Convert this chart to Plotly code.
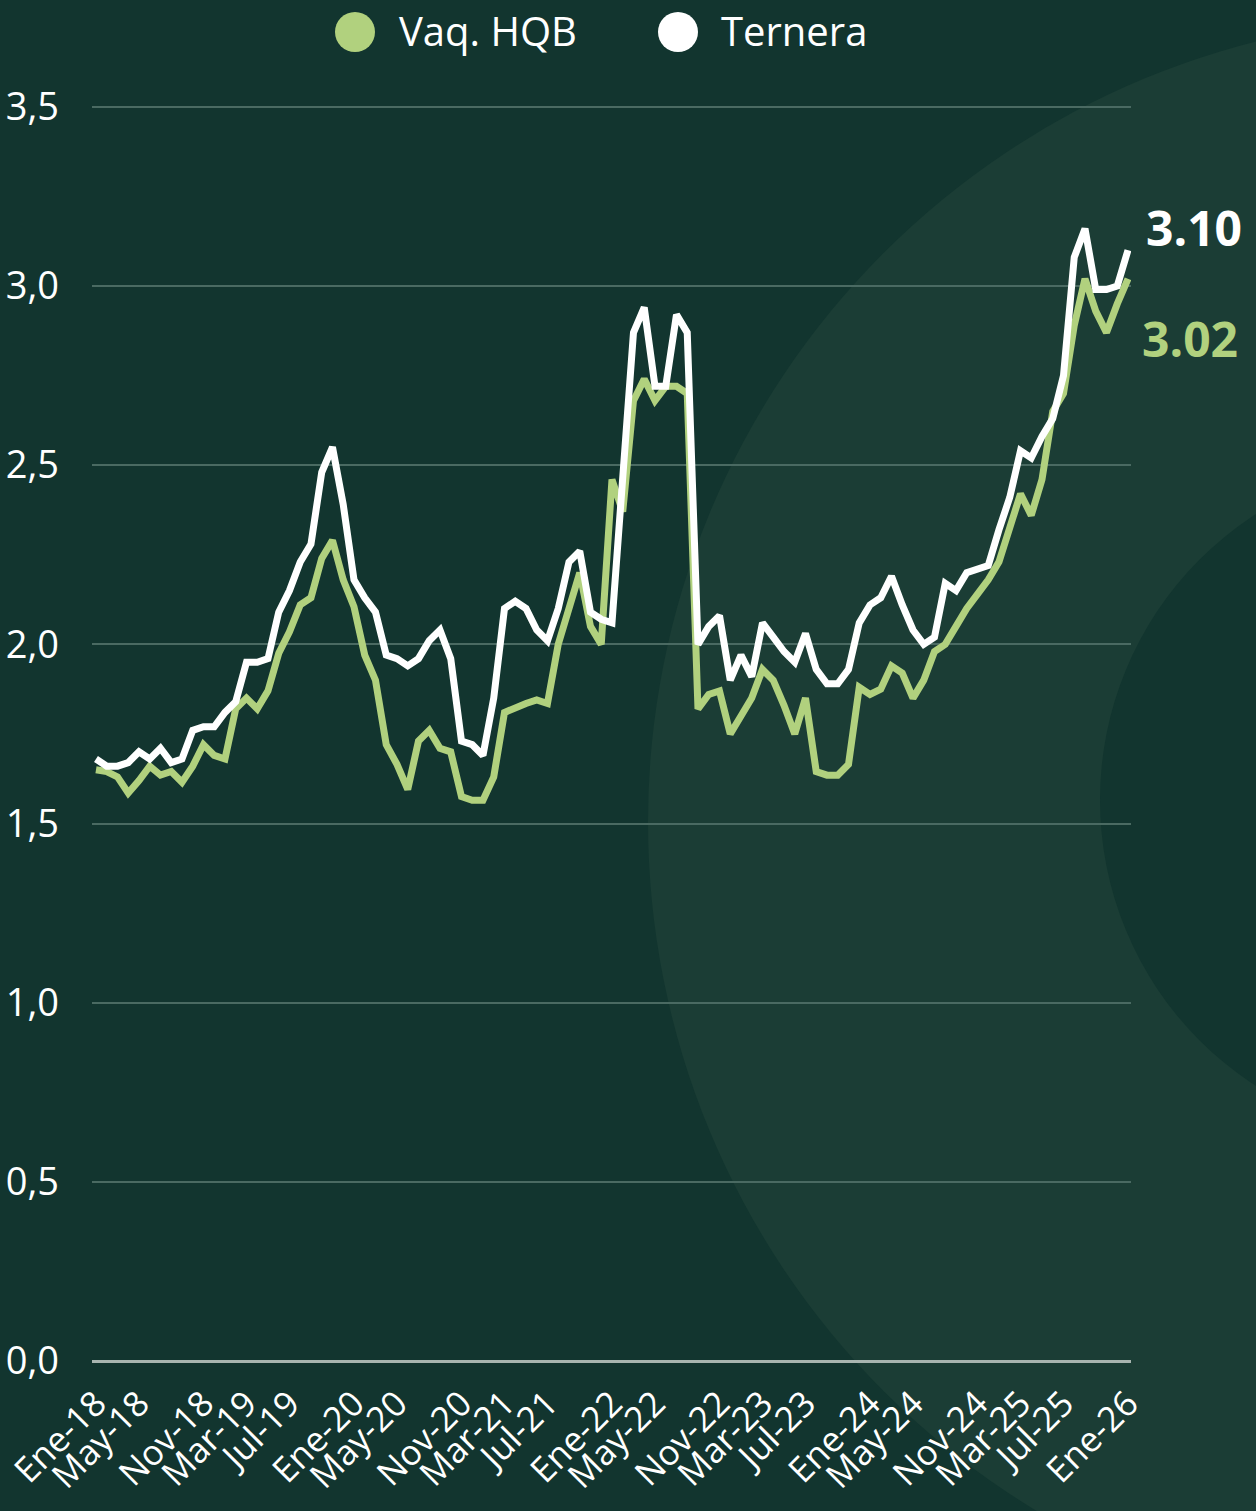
import plotly.graph_objects as go

# ---------------- data ----------------
month_names = ["Ene", "Feb", "Mar", "Abr", "May", "Jun", "Jul", "Ago", "Sep", "Oct", "Nov", "Dic"]
years = list(range(2018, 2026))
months = [f"{m}-{str(y)[2:]}" for y in years for m in month_names] + ["Ene-26"]

tick_labels = ["Ene-18", "May-18", "Nov-18", "Mar-19", "Jul-19", "Ene-20", "May-20", "Nov-20",
               "Mar-21", "Jul-21", "Ene-22", "May-22", "Nov-22", "Mar-23", "Jul-23", "Ene-24",
               "May-24", "Nov-24", "Mar-25", "Jul-25", "Ene-26"]

ternera = [1.68, 1.66, 1.66, 1.67, 1.70, 1.68, 1.71, 1.67, 1.68, 1.76,
           1.77, 1.77, 1.81, 1.84, 1.95, 1.95, 1.96, 2.09, 2.15, 2.23,
           2.28, 2.48, 2.55, 2.39, 2.18, 2.13, 2.09, 1.97, 1.96, 1.94,
           1.96, 2.01, 2.04, 1.96, 1.73, 1.72, 1.69, 1.85, 2.10, 2.12,
           2.10, 2.04, 2.01, 2.10, 2.23, 2.26, 2.09, 2.07, 2.06, 2.47,
           2.87, 2.94, 2.72, 2.72, 2.92, 2.87, 2.00, 2.05, 2.08, 1.90,
           1.97, 1.91, 2.06, 2.02, 1.98, 1.95, 2.03, 1.93, 1.89, 1.89,
           1.93, 2.06, 2.11, 2.13, 2.19, 2.11, 2.04, 2.00, 2.02, 2.17,
           2.15, 2.20, 2.21, 2.22, 2.32, 2.41, 2.54, 2.52, 2.58, 2.63,
           2.75, 3.08, 3.16, 2.99, 2.99, 3.00, 3.10]

vaq_hqb = [1.65, 1.645, 1.63, 1.585, 1.62, 1.66, 1.635, 1.645, 1.615, 1.66,
           1.72, 1.69, 1.68, 1.82, 1.85, 1.82, 1.87, 1.975, 2.035, 2.11,
           2.13, 2.24, 2.29, 2.18, 2.105, 1.97, 1.90, 1.72, 1.665, 1.595,
           1.73, 1.76, 1.71, 1.70, 1.575, 1.565, 1.565, 1.63, 1.81, 1.825,
           1.835, 1.845, 1.835, 2.00, 2.10, 2.20, 2.05, 2.00, 2.46, 2.37,
           2.68, 2.74, 2.68, 2.72, 2.72, 2.70, 1.82, 1.86, 1.87, 1.75,
           1.80, 1.85, 1.93, 1.90, 1.83, 1.75, 1.85, 1.645, 1.635, 1.635,
           1.665, 1.88, 1.86, 1.875, 1.94, 1.92, 1.85, 1.90, 1.98, 2.00,
           2.05, 2.10, 2.14, 2.18, 2.23, 2.32, 2.42, 2.36, 2.46, 2.65,
           2.70, 2.89, 3.02, 2.93, 2.87, 2.95, 3.02]

series_names = ["Vaq. HQB", "Ternera"]

# ---------------- style ----------------
W, H = 1256, 1511
ML, MR, MT, MB = 92, 125, 71, 150
BG = "#12352f"
CIRCLE = "#1b3d35"
GREEN = "#b1d17e"
WHITE = "#ffffff"
FONT = "Open Sans"

PW = W - ML - MR
PH = H - MT - MB


def px_x(x):
    return (x - ML) / PW


def px_y(y):
    return (H - MB - y) / PH


fig = go.Figure()
fig.add_trace(go.Scatter(x=months, y=vaq_hqb, mode="lines", name=series_names[0],
                         line=dict(color=GREEN, width=7), showlegend=False,
                         hoverinfo="skip"))
fig.add_trace(go.Scatter(x=months, y=ternera, mode="lines", name=series_names[1],
                         line=dict(color=WHITE, width=7), showlegend=False,
                         hoverinfo="skip"))

shapes = []
# decorative background circles
for cx, cy, r, col in [(1453, 822, 805, CIRCLE), (1440, 800, 340, BG)]:
    shapes.append(dict(type="circle", xref="paper", yref="paper", layer="below",
                       x0=px_x(cx - r), x1=px_x(cx + r), y0=px_y(cy + r), y1=px_y(cy - r),
                       fillcolor=col, line=dict(width=0)))
# legend dots
for cx, col in [(355, GREEN), (678, WHITE)]:
    shapes.append(dict(type="circle", xref="paper", yref="paper", layer="above",
                       x0=px_x(cx - 20), x1=px_x(cx + 20), y0=px_y(52), y1=px_y(12),
                       fillcolor=col, line=dict(width=0)))

annotations = []
for tx, name in [(397, series_names[0]), (719, series_names[1])]:
    annotations.append(dict(xref="paper", yref="paper", x=px_x(tx), y=px_y(30),
                            xanchor="left", yanchor="middle", showarrow=False, text=name,
                            font=dict(family=FONT, size=40, color=WHITE)))
# end labels
annotations.append(dict(x=months[-1], y=ternera[-1], xref="x", yref="y", xanchor="left",
                        yanchor="middle", xshift=16, yshift=23, showarrow=False,
                        text=f"<b>{ternera[-1]:.2f}</b>",
                        font=dict(family=FONT, size=48, color=WHITE)))
annotations.append(dict(x=months[-1], y=vaq_hqb[-1], xref="x", yref="y", xanchor="left",
                        yanchor="middle", xshift=12, yshift=-60, showarrow=False,
                        text=f"<b>{vaq_hqb[-1]:.2f}</b>",
                        font=dict(family=FONT, size=48, color=GREEN)))

n = len(months)
fig.update_layout(
    width=W, height=H,
    margin=dict(l=ML, r=MR, t=MT, b=MB, pad=0, autoexpand=False),
    paper_bgcolor=BG, plot_bgcolor="rgba(0,0,0,0)",
    separators=",.",
    font=dict(family=FONT, color=WHITE),
    shapes=shapes, annotations=annotations,
    showlegend=False,
    xaxis=dict(type="category", categoryorder="array", categoryarray=months,
               range=[-0.37, n - 1 + 0.28], tickmode="array", tickvals=tick_labels,
               ticktext=tick_labels, tickangle=-45, showgrid=False, zeroline=False,
               showline=False, ticks="", ticklabelstandoff=14, automargin=False,
               fixedrange=True,
               tickfont=dict(family=FONT, size=35, color=WHITE)),
    yaxis=dict(range=[0, 3.6], tickmode="linear", tick0=0, dtick=0.5, tickformat=".1f",
               showgrid=True, gridcolor="#4a6a62", gridwidth=2,
               zeroline=True, zerolinecolor="#a8b5b0", zerolinewidth=3,
               showline=False, ticks="", ticklabelstandoff=32, automargin=False,
               fixedrange=True,
               tickfont=dict(family=FONT, size=38, color=WHITE)),
)

fig.write_html(
    "out.html",
    config={"displayModeBar": False, "staticPlot": True},
    post_script="document.body.style.margin='0';document.body.style.background='#12352f';",
)
